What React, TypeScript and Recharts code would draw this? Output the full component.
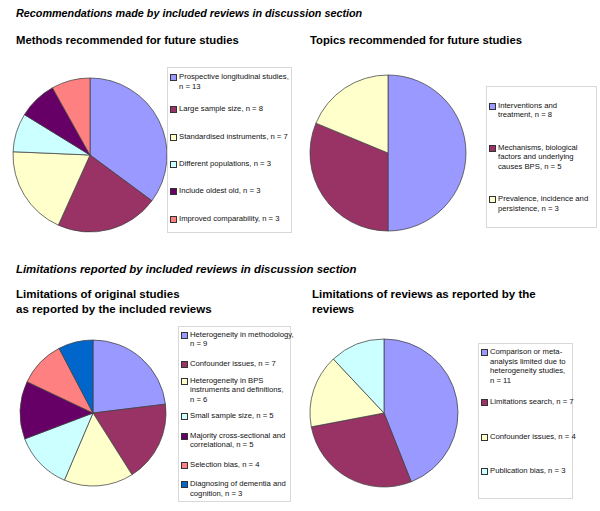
import { PieChart, Pie, Cell } from "recharts";

// Excel-style palette, in slice order
const palette = ["#9999FF", "#993366", "#FFFFCC", "#CCFFFF", "#660066", "#FF8080", "#0066CC"];

const methodLabels = [
  "Prospective longitudinal studies,\nn = 13",
  "Large sample size, n = 8",
  "Standardised instruments, n = 7",
  "Different populations, n = 3",
  "Include oldest old, n = 3",
  "Improved comparability, n = 3",
];
const methodCounts = [13, 8, 7, 3, 3, 3];

const topicLabels = [
  "Interventions and\ntreatment, n = 8",
  "Mechanisms, biological\nfactors and underlying\ncauses BPS, n = 5",
  "Prevalence, incidence and\npersistence, n = 3",
];
const topicCounts = [8, 5, 3];

const studyLimitLabels = [
  "Heterogeneity in methodology,\nn = 9",
  "Confounder issues, n = 7",
  "Heterogeneity in BPS\ninstruments and definitions,\nn = 6",
  "Small sample size, n = 5",
  "Majority cross-sectional and\ncorrelational, n = 5",
  "Selection bias, n = 4",
  "Diagnosing of dementia and\ncognition, n = 3",
];
const studyLimitCounts = [9, 7, 6, 5, 5, 4, 3];

const reviewLimitLabels = [
  "Comparison or meta-\nanalysis limited due to\nheterogeneity studies,\nn = 11",
  "Limitations search, n = 7",
  "Confounder issues, n = 4",
  "Publication bias, n = 3",
];
const reviewLimitCounts = [11, 7, 4, 3];

const font = '"Liberation Sans", Arial, sans-serif';

type PieBox = { cx: number; cy: number; r: number };
type LegendBox = { left: number; top: number; width: number; height: number; padTop: number; padBottom: number };

function PiePanel({ labels, counts, pie, legend }: { labels: string[]; counts: number[]; pie: PieBox; legend: LegendBox }) {
  const data = counts.map((value, i) => ({ name: labels[i], value }));
  const size = pie.r * 2 + 6;
  return (
    <>
      <div style={{ position: "absolute", left: pie.cx - size / 2, top: pie.cy - size / 2 }}>
        <PieChart width={size} height={size} margin={{ top: 0, right: 0, bottom: 0, left: 0 }}>
          <Pie
            data={data}
            dataKey="value"
            cx="50%"
            cy="50%"
            outerRadius={pie.r}
            startAngle={90}
            endAngle={-270}
            stroke="#404040"
            strokeWidth={0.75}
            isAnimationActive={false}
          >
            {data.map((d, i) => (
              <Cell key={d.name} fill={palette[i]} />
            ))}
          </Pie>
        </PieChart>
      </div>
      <div
        style={{
          position: "absolute",
          left: legend.left,
          top: legend.top,
          width: legend.width,
          height: legend.height,
          boxSizing: "border-box",
          border: "1px solid #d8d8d8",
          paddingTop: legend.padTop,
          paddingBottom: legend.padBottom,
          display: "flex",
          flexDirection: "column",
          fontFamily: font,
          fontSize: 7.7,
          lineHeight: "9.5px",
          color: "#111",
        }}
      >
        {data.map((d, i) => (
          <div key={d.name} style={{ flex: 1, display: "flex", alignItems: "center" }}>
            <div style={{ display: "flex", alignItems: "flex-start" }}>
              <span
                style={{
                  width: 5,
                  height: 5,
                  marginLeft: 2,
                  marginRight: 2,
                  marginTop: 2,
                  flex: "none",
                  background: palette[i],
                  border: "0.75px solid #333",
                }}
              />
              <span style={{ whiteSpace: "pre" }}>{d.name}</span>
            </div>
          </div>
        ))}
      </div>
    </>
  );
}

const titleStyle = (left: number, top: number, size: number, italic = false) => ({
  position: "absolute" as const,
  left,
  top,
  fontFamily: font,
  fontWeight: 700,
  fontStyle: italic ? "italic" : "normal",
  fontSize: size,
  lineHeight: "15px",
  color: "#000",
  whiteSpace: "pre" as const,
});

export default function App() {
  return (
    <div style={{ position: "absolute", left: 0, top: 0, width: 600, height: 511, background: "#fff", overflow: "hidden" }}>
      <div style={titleStyle(16, 6, 10.8, true)}>Recommendations made by included reviews in discussion section</div>
      <div style={titleStyle(16, 33, 11.3)}>Methods recommended for future studies</div>
      <div style={titleStyle(310, 33, 11.3)}>Topics recommended for future studies</div>

      <PiePanel
        labels={methodLabels}
        counts={methodCounts}
        pie={{ cx: 90, cy: 155, r: 77 }}
        legend={{ left: 167, top: 67, width: 125, height: 166, padTop: 0, padBottom: 0 }}
      />
      <PiePanel
        labels={topicLabels}
        counts={topicCounts}
        pie={{ cx: 388, cy: 153, r: 78 }}
        legend={{ left: 486, top: 86, width: 111, height: 142, padTop: 0, padBottom: 0 }}
      />

      <div style={titleStyle(16, 262, 11.4, true)}>Limitations reported by included reviews in discussion section</div>
      <div style={titleStyle(16, 287, 11.5)}>{"Limitations of original studies\nas reported by the included reviews"}</div>
      <div style={titleStyle(312, 287, 11.5)}>{"Limitations of reviews as reported by the\nreviews"}</div>

      <PiePanel
        labels={studyLimitLabels}
        counts={studyLimitCounts}
        pie={{ cx: 93, cy: 413, r: 73 }}
        legend={{ left: 178, top: 326, width: 113, height: 176, padTop: 0, padBottom: 0 }}
      />
      <PiePanel
        labels={reviewLimitLabels}
        counts={reviewLimitCounts}
        pie={{ cx: 384, cy: 413, r: 74 }}
        legend={{ left: 478, top: 343, width: 95, height: 156, padTop: 3, padBottom: 10 }}
      />
    </div>
  );
}
